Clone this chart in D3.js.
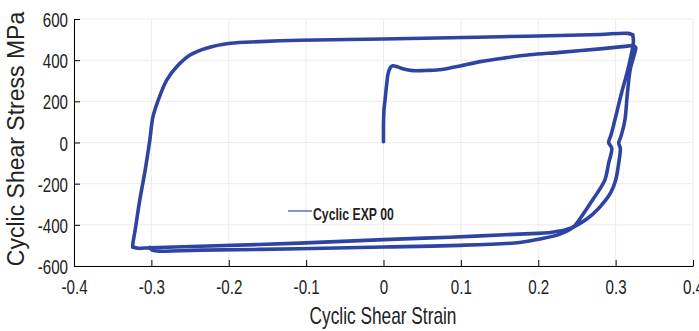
<!DOCTYPE html>
<html>
<head>
<meta charset="utf-8">
<script src="https://cdn.jsdelivr.net/npm/d3@7"></script>
<style>
  body { margin: 0; background: #fff; }
  text { font-family: "Liberation Sans", Arial, sans-serif; fill: #222; }
</style>
</head>
<body>
<div id="chart"></div>
<script>
// data [strain, stress MPa]
const initialLoading = [
  [0.000, 4], [0.000, 85], [0.0006, 158], [0.002, 206], [0.004, 279], [0.006, 336],
  [0.009, 365], [0.012, 373], [0.017, 369], [0.026, 357], [0.038, 349], [0.054, 350],
  [0.069, 352], [0.086, 362], [0.099, 372], [0.125, 393], [0.157, 411], [0.189, 426],
  [0.228, 438], [0.280, 455], [0.312, 467], [0.322, 471]
];
const firstUnloading = [
  [0.326, 462], [0.325, 440], [0.319, 357], [0.315, 230], [0.312, 109], [0.307, 31],
  [0.304, -2], [0.306, -27], [0.304, -100], [0.300, -183], [0.294, -241], [0.287, -280],
  [0.277, -324], [0.264, -368], [0.242, -416], [0.218, -436], [0.176, -445], [0.086, -460],
  [0, -472], [-0.108, -489], [-0.237, -504], [-0.302, -511], [-0.317, -514], [-0.324, -508]
];
const reloading = [
  [-0.324, -495], [-0.321, -426], [-0.315, -280], [-0.308, -134], [-0.302, 12], [-0.298, 124],
  [-0.291, 207], [-0.280, 304], [-0.267, 369], [-0.250, 425], [-0.229, 458], [-0.198, 482],
  [-0.160, 490], [-0.108, 497], [0, 503], [0.086, 509], [0.151, 514], [0.228, 520],
  [0.280, 525], [0.316, 530], [0.322, 523]
];
const secondUnloading = [
  [0.323, 489], [0.316, 357], [0.307, 231], [0.299, 109], [0.294, 36], [0.291, 0],
  [0.295, -27], [0.291, -100], [0.286, -183], [0.277, -241], [0.270, -280], [0.258, -348],
  [0.245, -411], [0.228, -445], [0.202, -469], [0.176, -486], [0.086, -501], [0, -508],
  [-0.108, -516], [-0.237, -523], [-0.299, -523], [-0.302, -510]
];
const xTicks = [-0.4, -0.3, -0.2, -0.1, 0, 0.1, 0.2, 0.3, 0.4];
const yTicks = [-600, -400, -200, 0, 200, 400, 600];
const seriesName = "Cyclic EXP 00";

//size
const width = 699;
const height = 331;
const margin = { top: 19, right: 6, bottom: 65, left: 74 };
const innerHeight = height - margin.top - margin.bottom;
const sx = 0.72; // narrow look of the text

const xScale = d3.scaleLinear().domain([-0.4, 0.4]).range([0, 619]);
const yScale = d3.scaleLinear().domain([-600, 600]).range([innerHeight, 0]);

const svg = d3.select("#chart").append("svg")
  .attr("width", width)
  .attr("height", height);

const g = svg.append("g")
  .attr("transform", `translate(${margin.left},${margin.top})`);

// squeeze a text sideways
function narrow(sel) {
  sel.each(function () {
    const w = this.getComputedTextLength();
    d3.select(this)
      .attr("textLength", w * sx)
      .attr("lengthAdjust", "spacingAndGlyphs");
  });
}

//grid
g.append("g")
  .selectAll("line")
  .data(xTicks)
  .join("line")
  .attr("x1", (d) => xScale(d)).attr("x2", (d) => xScale(d))
  .attr("y1", 0).attr("y2", innerHeight)
  .attr("stroke", "#ececec");
g.append("g")
  .selectAll("line")
  .data(yTicks)
  .join("line")
  .attr("x1", 0).attr("x2", xScale(0.4))
  .attr("y1", (d) => yScale(d)).attr("y2", (d) => yScale(d))
  .attr("stroke", "#ececec");

//axes
g.append("g")
  .attr("transform", `translate(0,${innerHeight})`)
  .call(d3.axisBottom(xScale).tickValues(xTicks).tickSize(-6).tickSizeOuter(0)
    .tickFormat((d) => (d === 0 ? "0" : d.toFixed(1))))
  .call((ax) => {
    ax.select(".domain").attr("stroke", "#000");
    ax.selectAll(".tick line").attr("stroke", "#000");
    ax.selectAll(".tick text")
      .attr("font-size", 21)
      .attr("font-family", "Liberation Sans, Arial, sans-serif")
      .attr("fill", "#222")
      .attr("y", 28).attr("dy", 0)
      .call(narrow);
  });

g.append("g")
  .call(d3.axisLeft(yScale).tickValues(yTicks).tickSize(-6).tickSizeOuter(0)
    .tickFormat((d) => String(d)))
  .call((ax) => {
    ax.select(".domain").attr("stroke", "#000");
    ax.selectAll(".tick line").attr("stroke", "#000");
    ax.selectAll(".tick text")
      .attr("font-size", 21)
      .attr("font-family", "Liberation Sans, Arial, sans-serif")
      .attr("fill", "#222")
      .attr("x", -6)
      .attr("dy", "0.36em")
      .call(narrow);
  });

//curve
const line = d3.line()
  .x((d) => xScale(d[0]))
  .y((d) => yScale(d[1]))
  .curve(d3.curveCatmullRom.alpha(0.5));

[initialLoading, firstUnloading, reloading, secondUnloading].forEach((seg, i, all) => {
  const pts = i > 0 ? [all[i - 1][all[i - 1].length - 1]].concat(seg) : seg;
  g.append("path")
    .attr("d", line(pts))
    .attr("fill", "none")
    .attr("stroke", "#2e44a3")
    .attr("stroke-width", 3.6)
    .attr("stroke-linejoin", "round")
    .attr("stroke-linecap", "round");
});

//legend
svg.append("line")
  .attr("x1", 288).attr("x2", 312)
  .attr("y1", 211).attr("y2", 211)
  .attr("stroke", "#8893cc")
  .attr("stroke-width", 2);
svg.append("text")
  .attr("x", 313).attr("y", 220)
  .attr("font-size", 17)
  .attr("font-weight", "bold")
  .text(seriesName)
  .call(narrow);

//labels
svg.append("text")
  .attr("x", 383).attr("y", 324)
  .attr("text-anchor", "middle")
  .attr("font-size", 24)
  .text("Cyclic Shear Strain")
  .call(narrow);

svg.append("text")
  .attr("transform", "translate(24,139) rotate(-90)")
  .attr("text-anchor", "middle")
  .attr("font-size", 23)
  .text("Cyclic Shear Stress MPa");
</script>
</body>
</html>
